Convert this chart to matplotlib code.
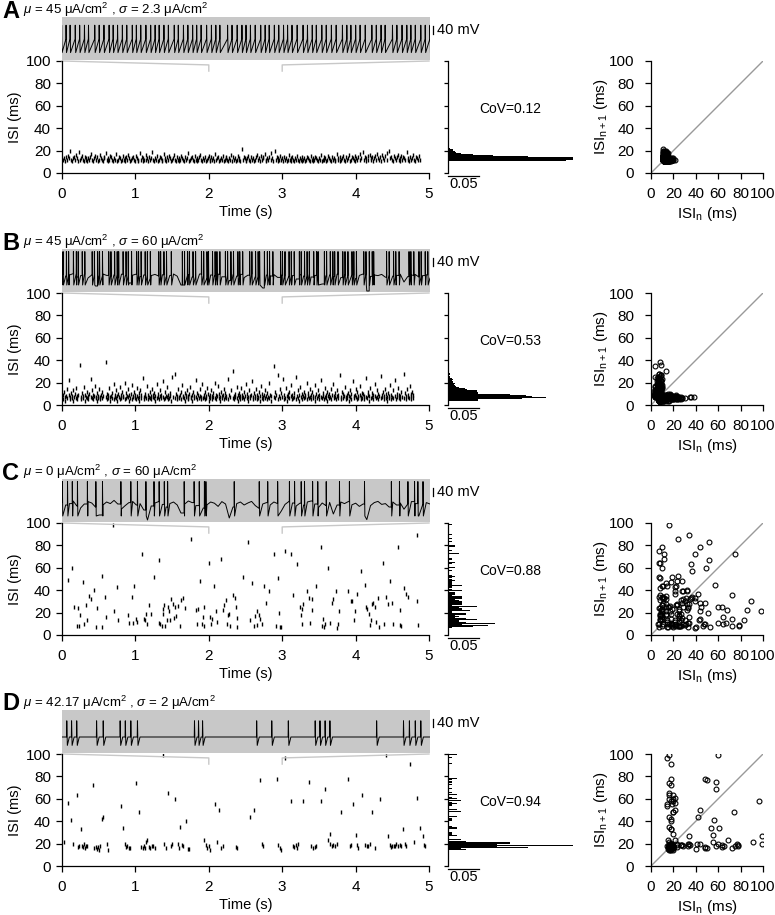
import numpy as np
import matplotlib
matplotlib.use("Agg")
import matplotlib.pyplot as plt
import matplotlib.transforms as mtransforms

# ---- ISI data (ms) -------------------------------
# A: mu = 45, sigma = 2.3 (regular firing)
a_isi = [
    12, 13, 11, 14, 12, 15, 13, 20, 12, 11, 13, 14, 12, 16, 13, 11, 19, 12, 13, 15, 12, 11, 14, 13, 12,
    11, 13, 12, 14, 17, 12, 11, 13, 15, 12, 14, 11, 12, 16, 13, 12, 11, 14, 13, 18, 12, 11, 13, 12, 15,
    14, 12, 11, 13, 12, 17, 11, 12, 14, 13, 11, 12, 15, 12, 13, 11, 14, 12, 16, 13, 11, 12, 13, 14, 12,
    11, 15, 13, 12, 11, 18, 12, 14, 13, 11, 12, 16, 12, 13, 11, 14, 12, 13, 19, 12, 11, 13, 12, 15, 11,
    12, 14, 13, 11, 12, 17, 13, 12, 11, 14, 12, 15, 13, 11, 12, 13, 16, 12, 11, 14, 12, 13, 11, 12, 15,
    13, 12, 11, 14, 12, 13, 18, 11, 12, 13, 14, 12, 11, 15, 12, 13, 11, 12, 14, 16, 12, 11, 13, 12, 14,
    11, 12, 13, 15, 12, 11, 14, 12, 13, 11, 17, 12, 13, 14, 11, 12, 13, 12, 15, 11, 12, 14, 13, 12, 11,
    13, 12, 16, 11, 14, 12, 13, 11, 12, 15, 13, 12, 11, 21, 12, 14, 13, 11, 12, 13, 15, 12, 11, 14, 12,
    13, 11, 12, 14, 16, 12, 13, 11, 15, 12, 14, 13, 17, 12, 11, 13, 12, 14, 18, 12, 13, 11, 20, 12, 14,
    13, 11, 12, 15, 12, 13, 11, 14, 12, 13, 11, 12, 16, 12, 13, 11, 14, 12, 11, 13, 12, 15, 12, 11, 13,
    12, 14, 11, 12, 13, 11, 12, 14, 13, 12, 11, 15, 12, 13, 11, 12, 14, 13, 12, 11, 13, 12, 16, 11, 12,
    14, 12, 13, 11, 12, 15, 13, 12, 11, 14, 12, 13, 11, 12, 17, 12, 13, 14, 11, 12, 13, 15, 12, 11, 14,
    12, 13, 16, 11, 12, 14, 13, 12, 15, 11, 13, 12, 14, 17, 12, 13, 19, 12, 14, 11, 13, 15, 12, 16, 13,
    12, 14, 11, 13, 15, 12, 17, 13, 12, 14, 11, 16, 13, 12, 15, 18, 12, 20, 13, 14, 12, 11, 15, 13, 12,
    14, 16, 12, 13, 11, 15, 12, 14, 13, 12, 19, 13, 12, 11, 14, 12, 13, 16, 12, 11, 14, 13, 12, 15, 12,
]

# B: mu = 45, sigma = 60
b_isi = [
    6, 9, 5, 12, 7, 4, 8, 14, 6, 22, 9, 5, 7, 11, 8, 6, 13, 4, 7, 10, 15, 6, 8, 5, 9, 36,
    7, 5, 11, 8, 6, 16, 4, 9, 7, 12, 6, 8, 5, 10, 23, 7, 6, 13, 9, 5, 8, 17, 6, 7, 11, 4,
    8, 6, 14, 7, 5, 9, 12, 6, 8, 38, 7, 5, 10, 6, 9, 15, 4, 7, 8, 11, 6, 19, 5, 9, 7, 13,
    6, 8, 4, 10, 7, 16, 5, 9, 6, 12, 8, 7, 20, 5, 11, 6, 8, 14, 7, 4, 9, 6, 10, 18, 5, 8,
    7, 12, 6, 9, 5, 15, 8, 6, 11, 7, 4, 13, 9, 6, 24, 7, 5, 10, 8, 6, 17, 9, 5, 7, 12, 6,
    8, 5, 14, 7, 9, 6, 11, 4, 8, 19, 6, 7, 10, 5, 13, 8, 6, 9, 21, 7, 5, 12, 6, 8, 16, 7,
    5, 9, 6, 11, 8, 4, 25, 7, 28, 6, 10, 5, 8, 14, 7, 6, 9, 12, 5, 18, 7, 8, 6, 11, 4, 9,
    7, 13, 6, 8, 5, 10, 16, 7, 6, 9, 4, 12, 8, 6, 22, 7, 5, 11, 9, 6, 14, 8, 7, 5, 19, 6,
    9, 7, 12, 5, 8, 6, 15, 10, 7, 4, 9, 6, 13, 8, 5, 11, 7, 20, 6, 9, 5, 8, 17, 6, 10, 7,
    4, 12, 8, 6, 9, 14, 5, 7, 11, 6, 8, 23, 5, 9, 7, 13, 30, 6, 8, 5, 10, 7, 16, 6, 9, 4,
    11, 7, 5, 8, 15, 6, 9, 7, 12, 5, 8, 19, 6, 10, 7, 4, 13, 8, 6, 9, 21, 5, 7, 11, 6, 8,
    14, 5, 9, 7, 6, 12, 8, 4, 17, 6, 10, 7, 5, 9, 13, 6, 8, 11, 5, 7, 20, 6, 9, 8, 4, 35,
    7, 12, 6, 9, 27, 5, 8, 14, 6, 11, 7, 23, 5, 9, 6, 15, 8, 4, 10, 7, 12, 6, 18, 8, 5, 9,
    6, 11, 7, 25, 5, 8, 13, 6, 9, 4, 16, 7, 10, 5, 8, 12, 6, 9, 7, 20, 5, 11, 8, 6, 14, 7,
    9, 5, 12, 6, 8, 18, 7, 4, 10, 6, 13, 8, 5, 9, 22, 7, 6, 11, 8, 5, 15, 7, 9, 6, 12, 4,
    8, 10, 6, 7, 14, 5, 9, 19, 6, 8, 11, 7, 5, 13, 8, 6, 9, 27, 7, 5, 12, 6, 10, 8, 16, 5,
    7, 9, 6, 11, 8, 4, 13, 7, 10, 5, 21, 8, 6, 9, 14, 7, 5, 12, 6, 8, 17, 9, 5, 7, 11, 6,
    10, 8, 5, 24, 7, 6, 12, 9, 4, 8, 15, 6, 11, 7, 5, 9, 19, 8, 6, 13, 7, 10, 5, 8, 26, 6,
    9, 7, 12, 5, 8, 14, 6, 10, 7, 4, 11, 8, 6, 18, 9, 5, 7, 13, 6, 22, 8, 5, 10, 7, 15, 6,
    9, 8, 5, 12, 7, 28, 6, 11, 8, 5, 14, 9, 7, 6, 17, 10, 5, 8, 12, 6, 9,
]

# C: mu = 0, sigma = 60 -- spike time (s) and ISI (ms) of each visible mark
c_t = [
    0.086, 0.141, 0.163, 0.200, 0.222, 0.231, 0.245, 0.281, 0.299, 0.327,
    0.336, 0.372, 0.390, 0.436, 0.467, 0.472, 0.540, 0.549, 0.585, 0.594,
    0.699, 0.712, 0.744, 0.758, 0.903, 0.907, 0.948, 0.962, 0.985, 1.012,
    1.025, 1.093, 1.112, 1.134, 1.143, 1.152, 1.180, 1.207, 1.257, 1.316,
    1.325, 1.338, 1.357, 1.370, 1.379, 1.393, 1.407, 1.425, 1.438, 1.452,
    1.470, 1.488, 1.511, 1.524, 1.538, 1.556, 1.579, 1.606, 1.624, 1.652,
    1.679, 1.760, 1.819, 1.833, 1.851, 1.878, 1.906, 1.919, 1.928, 1.937,
    2.001, 2.015, 2.028, 2.042, 2.069, 2.092, 2.110, 2.160, 2.187, 2.205,
    2.228, 2.250, 2.264, 2.278, 2.287, 2.332, 2.359, 2.373, 2.387, 2.391,
    2.468, 2.536, 2.559, 2.586, 2.618, 2.632, 2.650, 2.659, 2.681, 2.695,
    2.718, 2.754, 2.781, 2.822, 2.895, 2.917, 2.940, 2.958, 2.967, 2.981,
    3.044, 3.122, 3.153, 3.208, 3.240, 3.253, 3.267, 3.276, 3.289, 3.335,
    3.362, 3.376, 3.403, 3.412, 3.462, 3.534, 3.548, 3.562, 3.575, 3.584,
    3.625, 3.648, 3.675, 3.698, 3.739, 3.752, 3.761, 3.775, 3.897, 3.934,
    3.956, 3.979, 3.997, 4.020, 4.079, 4.124, 4.142, 4.161, 4.179, 4.201,
    4.210, 4.224, 4.238, 4.269, 4.283, 4.306, 4.315, 4.378, 4.392, 4.415,
    4.446, 4.474, 4.492, 4.510, 4.578, 4.601, 4.610, 4.623, 4.655, 4.691,
    4.719, 4.832, 4.837, 4.846,
]
c_isi = [
    49, 60, 25, 8, 24, 8, 18, 47, 10, 27,
    13, 35, 32, 40, 7, 24, 53, 7, 34, 16,
    98, 21, 43, 13, 18, 11, 34, 11, 44, 14,
    12, 72, 14, 13, 19, 10, 27, 19, 52, 67,
    11, 10, 8, 19, 23, 27, 8, 13, 25, 21,
    13, 32, 28, 15, 25, 17, 26, 8, 31, 33,
    24, 86, 22, 10, 23, 48, 10, 16, 25, 8,
    64, 16, 10, 14, 44, 21, 12, 68, 22, 27,
    31, 10, 18, 19, 8, 36, 33, 25, 15, 7,
    52, 83, 13, 46, 8, 17, 21, 9, 18, 14,
    10, 44, 29, 39, 72, 8, 51, 20, 7, 7,
    75, 72, 36, 63, 25, 18, 10, 23, 28, 39,
    33, 11, 32, 22, 44, 79, 8, 14, 7, 10,
    60, 11, 29, 32, 39, 6, 10, 21, 39, 30,
    30, 13, 21, 37, 57, 45, 25, 23, 19, 9,
    13, 28, 29, 25, 12, 33, 7, 64, 10, 34,
    28, 48, 29, 10, 79, 9, 22, 8, 42, 37,
    34, 89, 30, 9,
]

# D: mu = 42.17, sigma = 2 (bursting)
d_t = [
    0.032, 0.086, 0.123, 0.145, 0.204, 0.222, 0.236, 0.254, 0.268, 0.286,
    0.299, 0.313, 0.327, 0.345, 0.422, 0.440, 0.458, 0.472, 0.485, 0.499,
    0.517, 0.540, 0.563, 0.617, 0.622, 0.799, 0.826, 0.858, 0.871, 0.889,
    0.907, 0.926, 1.007, 1.053, 1.080, 1.098, 1.112, 1.130, 1.143, 1.162,
    1.180, 1.198, 1.220, 1.243, 1.266, 1.370, 1.388, 1.411, 1.447, 1.479,
    1.502, 1.543, 1.574, 1.593, 1.606, 1.633, 1.652, 1.688, 1.711, 1.733,
    1.933, 1.960, 1.978, 1.996, 2.015, 2.083, 2.114, 2.142, 2.173, 2.196,
    2.368, 2.387, 2.559, 2.618, 2.695, 2.722, 2.740, 2.927, 2.949, 2.967,
    2.981, 3.044, 3.122, 3.149, 3.167, 3.185, 3.203, 3.221, 3.285, 3.367,
    3.389, 3.421, 3.448, 3.466, 3.525, 3.584, 3.621, 3.648, 3.657, 3.675,
    3.693, 3.716, 3.748, 3.807, 3.897, 3.920, 3.943, 3.970, 4.002, 4.020,
    4.034, 4.083, 4.133, 4.151, 4.174, 4.197, 4.224, 4.270, 4.328, 4.410,
    4.442, 4.465, 4.483, 4.501, 4.519, 4.537, 4.555, 4.578, 4.601, 4.623,
    4.646, 4.669, 4.691, 4.746, 4.796, 4.832, 4.873, 4.918, 4.927, 4.946,
]
d_isi = [
    21, 56, 41, 20, 63, 17, 18, 33, 18, 17,
    20, 16, 18, 18, 72, 16, 17, 15, 17, 14,
    18, 42, 44, 20, 14, 54, 34, 20, 17, 18,
    16, 16, 74, 48, 17, 16, 18, 16, 21, 23,
    17, 16, 18, 18, 16, 99, 20, 16, 65, 18,
    20, 60, 20, 16, 35, 19, 18, 40, 15, 15,
    23, 19, 16, 18, 14, 55, 21, 50, 16, 18,
    17, 16, 44, 50, 77, 20, 18, 78, 19, 16,
    14, 96, 58, 18, 17, 19, 16, 20, 58, 75,
    18, 16, 17, 18, 58, 69, 23, 20, 29, 18,
    19, 18, 20, 48, 78, 18, 19, 55, 28, 19,
    16, 63, 19, 18, 18, 20, 48, 16, 60, 99,
    27, 19, 17, 18, 18, 18, 20, 18, 19, 18,
    33, 20, 18, 91, 21, 61, 34, 27, 19, 18,
]

# ---- membrane traces for the 2-3 s window --------------------------------
# subthreshold samples (mV), evenly spaced over the window
b_base = [
    -40, -50, -45, -38, -55, -48, -42, -60, -45, -100, -50, -40, -47, -52, -44, -58, -41, -49, -85, -46,
    -40, -53, -45, -62, -48, -42, -50, -44, -56, -47, -40, -51, -95, -48, -43, -55, -46, -40, -52, -60,
    -45, -49, -41, -54, -47, -72, -44, -50, -42, -58, -46, -40, -53, -48, -110, -45, -50, -43, -57, -46,
    -41, -52, -48, -65, -44, -50, -40, -55, -47, -42, -90, -49, -45, -53, -41, -58, -46, -50, -43, -62,
    -47, -40, -125, -52, -45, -48, -42, -56, -44, -50, -47, -41, -80, -53, -46, -42, -55, -48, -44, -60,
]
c_base = [
    -30, -45, -38, -25, -50, -60, -40, -28, -35, -55, -95, -45, -30, -38, -22, -40, -65, -48, -33, -27,
    -45, -38, -70, -120, -50, -35, -28, -42, -55, -38, -30, -45, -85, -40, -25, -33, -48, -38, -60, -44,
    -30, -36, -52, -28, -40, -110, -55, -38, -30, -45, -35, -27, -48, -62, -40, -33, -45, -30, -38, -75,
    -42, -28, -35, -50, -36, -45, -30, -25, -40, -58, -35, -48, -32, -90, -45, -30, -38, -28, -44, -36,
    -52, -40, -118, -48, -33, -27, -42, -38, -55, -30, -45, -35, -66, -40, -28, -38, -100, -45, -33, -40,
]
# spike times (s) seen in the D trace
d_trace_spikes = [
    2.013, 2.026, 2.040, 2.094, 2.112, 2.158, 2.172, 2.187, 2.205, 2.360, 2.371, 2.382,
    2.529, 2.570, 2.615, 2.688, 2.701, 2.715, 2.728, 2.855, 2.928, 2.944, 2.960, 2.975,
]

cov_labels = ["CoV=0.12", "CoV=0.53", "CoV=0.88", "CoV=0.94"]
titles = [
    r"$\mu$ = 45 μA/cm$^2$ , $\sigma$ = 2.3 μA/cm$^2$",
    r"$\mu$ = 45 μA/cm$^2$ , $\sigma$ = 60 μA/cm$^2$",
    r"$\mu$ = 0 μA/cm$^2$ , $\sigma$ = 60 μA/cm$^2$",
    r"$\mu$ = 42.17 μA/cm$^2$ , $\sigma$ = 2 μA/cm$^2$",
]
letters = ["A", "B", "C", "D"]

plt.rcParams["font.family"] = ["Liberation Sans", "DejaVu Sans"]
plt.rcParams["font.size"] = 10.5
plt.rcParams["mathtext.fontset"] = "custom"
plt.rcParams["mathtext.rm"] = "Liberation Sans"
plt.rcParams["mathtext.it"] = "Liberation Sans:italic"
plt.rcParams["mathtext.bf"] = "Liberation Sans:bold"
plt.rcParams["axes.linewidth"] = 0.9

W, H = 775, 915
fig = plt.figure(figsize=(W / 100, H / 100), dpi=100)
GRAY_BOX = "#c8c8c8"
TICK_FS = 11
LABEL_FS = 10.5


def add_ax(x0, y0, x1, y1):
    # pixel box (top-left origin) -> figure fraction
    return fig.add_axes([x0 / W, 1 - y1 / H, (x1 - x0) / W, (y1 - y0) / H])


def sawtooth_trace(spikes, peak, thr, trough):
    pts = []
    for ts in spikes:
        pts += [(ts - 0.0004, thr), (ts, peak), (ts + 0.0012, trough)]
    return np.array(pts)


def noisy_trace(spikes, base, peak, trough):
    bt = np.linspace(2, 3, len(base))
    pts = list(zip(bt, base))
    for ts in spikes:
        k = max(np.searchsorted(bt, ts) - 1, 0)
        pts += [(ts - 0.0003, base[k]), (ts, peak), (ts + 0.001, trough)]
    pts.sort()
    return np.array(pts)


def burst_trace(spikes, peak, rest, trough):
    pts = [(2.0, rest), (3.0, rest)]
    for ts in spikes:
        pts += [(ts - 0.0006, rest), (ts, peak), (ts + 0.0015, trough), (ts + 0.007, rest)]
    pts.sort()
    return np.array(pts)


a_times = np.cumsum(a_isi) / 1000.0
b_times = np.cumsum(b_isi) / 1000.0


def window(times):
    times = np.asarray(times)
    return times[(times > 1.97) & (times < 3.03)]


traces = [
    sawtooth_trace(window(a_times), 44, -25, -93),
    noisy_trace(window(b_times), b_base, 72, -95),
    noisy_trace(window(c_t), c_base, 72, -100),
    burst_trace(d_trace_spikes, 31, -50, -92),
]
isis = [np.array(a_isi), np.array(b_isi), np.array(c_isi), np.array(d_isi)]
times_all = [a_times, b_times, np.array(c_t), np.array(d_t)]
tops = [61, 293, 523, 754]
AXH = 112


def clean(ax, ticklen=4):
    for s in ("top", "right"):
        ax.spines[s].set_visible(False)
    ax.tick_params(direction="out", length=ticklen, width=0.9, labelsize=TICK_FS)


for i in range(4):
    top = tops[i]
    isi = isis[i]

    # panel letter and parameters
    fig.text(2 / W, 1 - (top - 50) / H, letters[i], fontsize=17, fontweight="bold", va="center")
    fig.text(23 / W, 1 - (top - 51) / H, titles[i], fontsize=9.5, va="center")

    # voltage trace (2-3 s)
    tax = add_ax(62, top - 44, 430, top - 1)
    tax.set_facecolor(GRAY_BOX)
    tr = traces[i]
    tax.plot(tr[:, 0], tr[:, 1], color="k", lw=0.7)
    tax.set_xlim(2, 3)
    tax.set_ylim(-130, 85)
    tax.set_xticks([])
    tax.set_yticks([])
    for s in tax.spines.values():
        s.set_visible(False)
    blend = mtransforms.blended_transform_factory(tax.transAxes, tax.transData)
    tax.plot([1.008, 1.008], [0, 40], color="k", lw=0.9, transform=blend, clip_on=False)
    tax.text(1.02, 20, "40 mV", transform=blend, va="center", fontsize=LABEL_FS)

    # ISI raster
    ax = add_ax(62, top, 429, top + AXH)
    ax.plot(times_all[i], isi, ls="none", marker="|", ms=3.5, mew=1.0, color="k")
    ax.plot([0, 2, 2], [100, 96.5, 91], color=GRAY_BOX, lw=1, clip_on=False)
    ax.plot([5, 3, 3], [100, 96.5, 91], color=GRAY_BOX, lw=1, clip_on=False)
    ax.set_xlim(0, 5)
    ax.set_ylim(0, 100)
    ax.set_xticks(range(6))
    ax.set_yticks(range(0, 101, 20))
    clean(ax)
    ax.tick_params(axis="x", pad=6)
    ax.tick_params(axis="y", pad=4)
    ax.set_xlabel("Time (s)", fontsize=LABEL_FS)
    ax.xaxis.set_label_coords(0.5, -0.285)
    ax.set_ylabel("ISI (ms)", fontsize=LABEL_FS)
    ax.yaxis.set_label_coords(-0.11, 0.5)

    # ISI histogram (probability)
    hax = add_ax(448, top, 573, top + AXH)
    hax.hist(isi, bins=np.arange(0, 101, 1), weights=np.ones(len(isi)) / len(isi),
             orientation="horizontal", color="k")
    hax.set_ylim(0, 100)
    hax.set_xlim(0, 0.2)
    clean(hax, ticklen=3)
    hax.spines["bottom"].set_bounds(0, 0.05)
    hax.spines["bottom"].set_position(("outward", 2))
    hax.set_xticks([])
    hax.set_yticks(range(0, 101, 20))
    hax.set_yticklabels([])
    hax.text(0.025, -4, "0.05", ha="center", va="top", fontsize=LABEL_FS)
    hax.text(0.099, 57, cov_labels[i], ha="center", va="center", fontsize=10)

    # return map
    rax = add_ax(651, top, 763, top + AXH)
    rax.plot([0, 100], [0, 100], color="#999999", lw=1)
    rax.plot(isi[:-1], isi[1:], ls="none", marker="o", mfc="none", mec="k", ms=3.5, mew=0.8)
    rax.set_xlim(0, 100)
    rax.set_ylim(0, 100)
    rax.set_xticks(range(0, 101, 20))
    rax.set_yticks(range(0, 101, 20))
    clean(rax)
    rax.tick_params(axis="x", pad=6)
    rax.tick_params(axis="y", pad=8)
    rax.set_xlabel(r"ISI$_\mathrm{n}$ (ms)", fontsize=11)
    rax.xaxis.set_label_coords(0.5, -0.285)
    rax.set_ylabel(r"ISI$_\mathrm{n+1}$ (ms)", fontsize=11)
    rax.yaxis.set_label_coords(-0.37, 0.5)

fig.savefig("out.png", dpi=100)
